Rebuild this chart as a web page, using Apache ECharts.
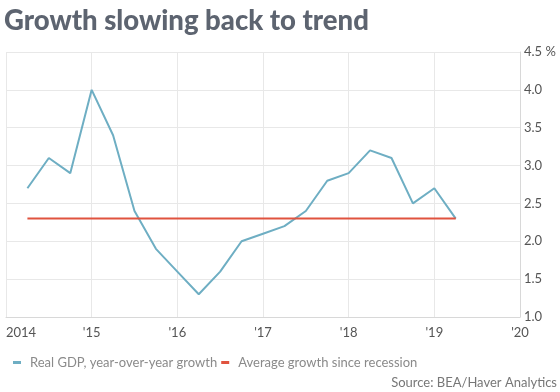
<!DOCTYPE html>
<html><head><meta charset="utf-8">
<script src="https://cdn.jsdelivr.net/npm/echarts@6/dist/echarts.min.js"></script>
<style>html,body{margin:0;padding:0;background:#fff}#c{width:560px;height:392px}</style>
</head><body><div id="c"></div>
<script>
// Data
const quarters = ['2014 Q1','2014 Q2','2014 Q3','2014 Q4','2015 Q1','2015 Q2','2015 Q3','2015 Q4',
  '2016 Q1','2016 Q2','2016 Q3','2016 Q4','2017 Q1','2017 Q2','2017 Q3','2017 Q4',
  '2018 Q1','2018 Q2','2018 Q3','2018 Q4','2019 Q1'];
const gdpGrowth = [2.7,3.1,2.9,4.0,3.4,2.4,1.9,1.6,1.3,1.6,2.0,2.1,2.2,2.4,2.8,2.9,3.2,3.1,2.5,2.7,2.3];
const avgGrowth = 2.3;
const seriesNames = ['Real GDP, year-over-year growth','Average growth since recession'];
const yTicks = [1.0,1.5,2.0,2.5,3.0,3.5,4.0,4.5];
const xYears = [2014,2015,2016,2017,2018,2019,2020];

function qx(label){ const [y,q] = label.split(' Q'); return +y + (+q)/4; }
const gdpData = quarters.map((q,i)=>[qx(q), gdpGrowth[i]]);
const avgData = [[qx(quarters[0]), avgGrowth],[qx(quarters[quarters.length-1]), avgGrowth]];

const chart = echarts.init(document.getElementById('c'), null, {renderer:'canvas'});
const FONT = 'Lato';
chart.setOption({
  animation:false,
  title:{text:'Growth slowing back to trend', left:-1, top:2,
    textStyle:{fontFamily:FONT, fontWeight:900, fontSize:27.5, color:'#5d6470'}},
  grid:{left:6, right:40, top:52, bottom:75, containLabel:false},
  legend:{left:8, top:351, itemWidth:8, itemHeight:3, itemGap:4, icon:'rect',
    textStyle:{fontFamily:FONT, fontSize:13, color:'#8a8a8a', padding:[0,0,0,4]},
    data:seriesNames},
  graphic:[{type:'text', right:3, top:376, style:{text:'Source: BEA/Haver Analytics',
    font:'13px Lato', fill:'#777'}}],
  xAxis:{type:'value', min:xYears[0], max:xYears[xYears.length-1], interval:1,
    axisLine:{show:true, lineStyle:{color:'#d8d8d8'}}, axisTick:{show:false},
    splitLine:{show:true, lineStyle:{color:'#e8e8e8'}},
    axisLabel:{fontFamily:FONT, fontSize:13, color:'#555', margin:9, alignMinLabel:'left',
      formatter:v=> v===xYears[0] ? String(v) : "'"+String(v).slice(2)}},
  yAxis:{type:'value', position:'right', min:yTicks[0], max:yTicks[yTicks.length-1], interval:0.5,
    axisLine:{show:true, lineStyle:{color:'#d8d8d8'}}, axisTick:{show:false},
    splitLine:{show:true, lineStyle:{color:'#e8e8e8'}},
    axisLabel:{fontFamily:FONT, fontSize:13, color:'#555', margin:4,
      formatter:v=> v===yTicks[yTicks.length-1] ? v.toFixed(1)+' %' : v.toFixed(1)}},
  series:[
    {name:seriesNames[0], type:'line', data:gdpData, symbol:'none', lineStyle:{width:2, color:'#6eaec3'}, itemStyle:{color:'#6eaec3'}},
    {name:seriesNames[1], type:'line', data:avgData, symbol:'none', lineStyle:{width:2, color:'#e0533f'}, itemStyle:{color:'#e0533f'}}
  ]
});
</script></body></html>
